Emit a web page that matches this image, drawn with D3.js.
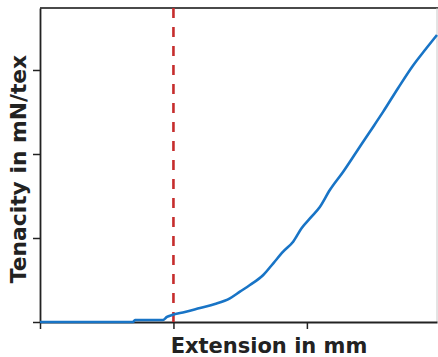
<!DOCTYPE html>
<html>
<head>
<meta charset="utf-8">
<script src="https://cdn.jsdelivr.net/npm/d3@7"></script>
<style>
  html, body { margin: 0; padding: 0; background: #fff; }
  svg { display: block; }
</style>
</head>
<body>
<svg id="chart" width="438" height="357"></svg>
<script>
// Extension (mm, arbitrary units) and tenacity (mN/tex, arbitrary units)
const extension = [0, 0.30, 0.60, 0.697, 0.712, 0.85, 0.921, 0.951, 0.989, 1.086, 1.199, 1.311, 1.423, 1.498, 1.573, 1.673, 1.748, 1.822, 1.897, 1.960, 2.035, 2.097, 2.172, 2.272, 2.372, 2.472, 2.572, 2.684, 2.793, 2.891, 2.975];
const tenacity  = [0, 0, 0, 0, 0.024, 0.024, 0.024, 0.060, 0.083, 0.119, 0.167, 0.214, 0.282, 0.361, 0.440, 0.560, 0.699, 0.837, 0.956, 1.115, 1.254, 1.369, 1.571, 1.789, 2.027, 2.265, 2.504, 2.786, 3.048, 3.250, 3.417];
const xTicks = [0, 1, 2];
const yTicks = [0, 1, 2, 3];
const markerExtension = 1.0;
const xLabel = "Extension in mm";
const yLabel = "Tenacity in mN/tex";

const svg = d3.select("#chart");
const mLeft = 40, mRight = 437, mTop = 8, mBottom = 322;

const x = d3.scaleLinear().domain([0, 2.975]).range([mLeft, mRight]);
const y = d3.scaleLinear().domain([0, 3.738]).range([mBottom, mTop]);

// frame top/right
svg.append("line").attr("x1", mLeft).attr("x2", mRight + 1).attr("y1", mTop).attr("y2", mTop)
  .attr("stroke", "#4a4a4a").attr("stroke-width", 2);
svg.append("line").attr("x1", mRight).attr("x2", mRight).attr("y1", mTop).attr("y2", mBottom)
  .attr("stroke", "#c8c8c8").attr("stroke-width", 1);

// axes
const xAxis = svg.append("g").attr("transform", `translate(0,${mBottom})`)
  .call(d3.axisBottom(x).tickValues(xTicks).tickFormat("").tickSize(7).tickSizeOuter(0));
const yAxis = svg.append("g").attr("transform", `translate(${mLeft},0)`)
  .call(d3.axisLeft(y).tickValues(yTicks).tickFormat("").tickSize(7).tickSizeOuter(0));
[xAxis, yAxis].forEach(g => {
  g.select(".domain").attr("stroke", "#222").attr("stroke-width", 1.8);
  g.selectAll(".tick line").attr("stroke", "#222").attr("stroke-width", 1.5);
});

// red dashed marker
svg.append("line")
  .attr("x1", x(markerExtension)).attr("x2", x(markerExtension))
  .attr("y1", mTop).attr("y2", mBottom)
  .attr("stroke", "#c62d2d").attr("stroke-width", 2.6)
  .attr("stroke-dasharray", "10,9");

// curve
const pts = extension.map((e, i) => [e, tenacity[i]]);
svg.append("path")
  .datum(pts)
  .attr("fill", "none")
  .attr("stroke", "#1874c6")
  .attr("stroke-width", 2.6)
  .attr("stroke-linejoin", "round")
  .attr("d", d3.line().x(d => x(d[0])).y(d => y(d[1])).curve(d3.curveMonotoneX));

// labels
svg.append("text")
  .attr("x", 269).attr("y", 353)
  .attr("text-anchor", "middle")
  .attr("font-family", "DejaVu Sans, Verdana, sans-serif")
  .attr("font-weight", "bold")
  .attr("font-size", 21)
  .attr("fill", "#222")
  .text(xLabel);

svg.append("text")
  .attr("transform", "translate(26,169) rotate(-90)")
  .attr("text-anchor", "middle")
  .attr("font-family", "DejaVu Sans, Verdana, sans-serif")
  .attr("font-weight", "bold")
  .attr("font-size", 21.8)
  .attr("fill", "#222")
  .text(yLabel);
</script>
</body>
</html>
